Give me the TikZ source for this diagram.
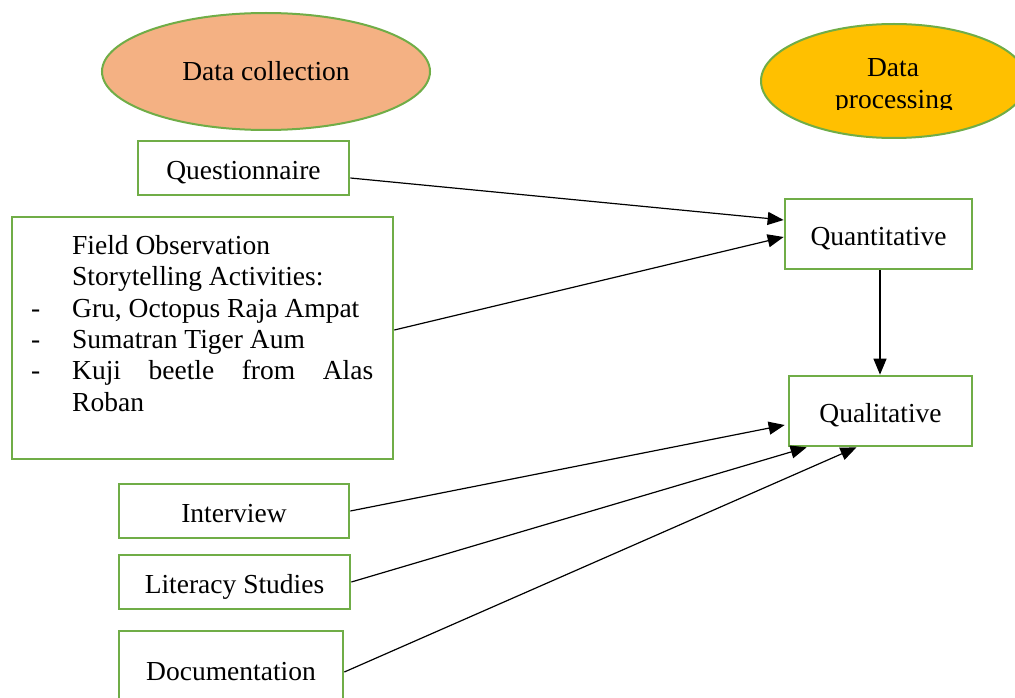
\documentclass[tikz,border=0pt]{standalone}
\usepackage{fontspec}
\setmainfont{Liberation Serif}
\usetikzlibrary{arrows.meta,shapes.geometric,calc}
\definecolor{bgreen}{HTML}{70AD47}
\definecolor{peach}{HTML}{F4B183}
\definecolor{gold}{HTML}{FFC000}
\tikzset{
  boxnode/.style={draw=bgreen, line width=2.7pt, fill=white, inner sep=0pt, text height=22pt, text depth=0pt},
  ovalnode/.style={ellipse, draw=bgreen, line width=2pt, inner sep=0pt},
  txt/.style={inner sep=0pt, anchor=base west},
  conn/.style={line width=1.2pt, -{Triangle[length=16pt,width=13pt]}}
}
\begin{document}
\begin{tikzpicture}[x=1pt,y=-1pt,font=\fontsize{27.5}{31.5}\selectfont]
\useasboundingbox (0,0) rectangle (1015,698);
\clip (0,0) rectangle (1015,698);
% ellipses
\node[ovalnode, fill=peach, minimum width=328pt, minimum height=117pt] (dc) at (266,71.5) {};
\node[txt, anchor=base] (dct) at (266,81) {Data collection};
\node[ovalnode, fill=gold, minimum width=266pt, minimum height=114pt] (dp) at (894,81) {};
\node[txt, anchor=base] (dpt1) at (893,77) {Data};
\begin{scope}
\clip (760,0) rectangle (1015,110);
\node[txt, anchor=base] (dpt2) at (894,109) {processing};
\end{scope}
% boxes
\node[boxnode, minimum width=211pt, minimum height=54pt] (q) at (243.5,168) {Questionnaire};
\node[boxnode, minimum width=381pt, minimum height=242pt] (f) at (202.5,338) {};
\node[txt] (f1) at (72,254) {Field Observation};
\node[txt] (f2) at (72,285) {Storytelling Activities:};
\node[txt] (d3) at (31,317) {-};
\node[txt] (f3) at (72,317) {Gru, Octopus Raja Ampat};
\node[txt] (d4) at (31,348) {-};
\node[txt] (f4) at (72,348) {Sumatran Tiger Aum};
\node[txt] (d5) at (31,379) {-};
\node[txt] (f5) at (72,379) {\hbox to 301pt{Kuji\hfill beetle\hfill from\hfill Alas}};
\node[txt] (f6) at (72,411) {Roban};
\node[boxnode, minimum width=187pt, minimum height=70pt] (qt) at (878.5,234) {Quantitative};
\node[boxnode, minimum width=183pt, minimum height=70pt] (ql) at (880.5,411) {Qualitative};
\node[boxnode, minimum width=230pt, minimum height=54pt] (iv) at (234,511) {Interview};
\node[boxnode, minimum width=231pt, minimum height=54pt] (ls) at (234.5,582) {Literacy Studies};
\node[boxnode, minimum width=224pt, minimum height=76pt] (doc) at (231,669) {Documentation};
% connectors
\draw[conn] ([yshift=-10pt]q.east) -- ([yshift=14pt]qt.west);
\draw[conn] ([yshift=8pt]f.east) -- ([yshift=-3pt]qt.west);
\draw[conn] ([xshift=1.5pt]qt.south) -- ([xshift=1.5pt]qt.south |- ql.north);
\draw[conn] (iv.east) -- ([xshift=-3pt,yshift=-14pt]ql.west);
\draw[conn] (ls.east) -- ([xshift=19pt]ql.south west);
\draw[conn] ([yshift=-3pt]doc.east) -- ([xshift=-24pt]ql.south);
\end{tikzpicture}
\end{document}
